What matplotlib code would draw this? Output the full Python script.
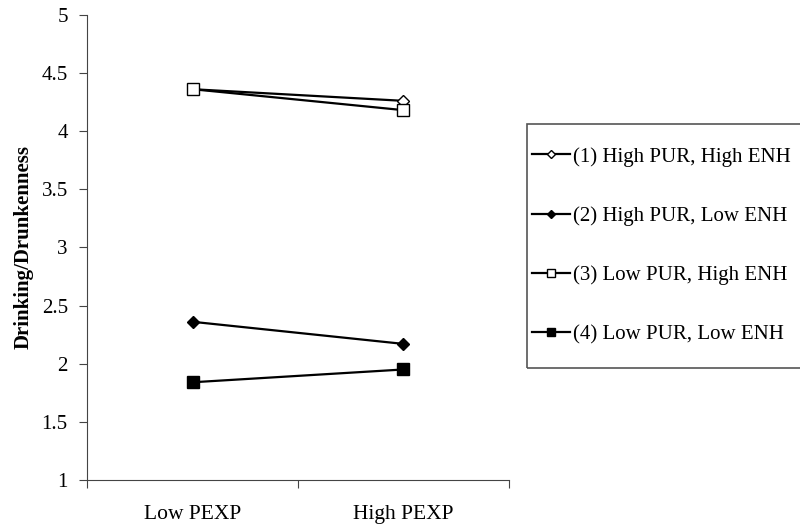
import matplotlib.pyplot as plt
from matplotlib.patches import Rectangle

plt.rcParams['font.family'] = ['Liberation Serif', 'DejaVu Serif']

categories = ["Low PEXP", "High PEXP"]
series_names = ["(1) High PUR, High ENH", "(2) High PUR, Low ENH",
                "(3) Low PUR, High ENH", "(4) Low PUR, Low ENH"]
s1 = [4.36, 4.26]
s2 = [2.36, 2.17]
s3 = [4.36, 4.18]
s4 = [1.84, 1.95]

fig = plt.figure(figsize=(8, 5.28), dpi=100)
ax = fig.add_axes([0.109, 0.091, 0.527, 0.881])

xs = [0.5, 1.5]
ax.plot(xs, s1, color='black', lw=1.6, marker='D', ms=6, mfc='white', mec='black', mew=1, label=series_names[0])
ax.plot(xs, s2, color='black', lw=1.6, marker='D', ms=6, mfc='black', mec='black', label=series_names[1])
ax.plot(xs, s3, color='black', lw=1.6, marker='s', ms=8, mfc='white', mec='black', mew=1, label=series_names[2])
ax.plot(xs, s4, color='black', lw=1.6, marker='s', ms=8, mfc='black', mec='black', label=series_names[3])

ax.set_xlim(0, 2)
ax.set_ylim(1, 5)
ax.set_yticks([1, 1.5, 2, 2.5, 3, 3.5, 4, 4.5, 5])
ax.set_yticklabels(['1', '1.5', '2', '2.5', '3', '3.5', '4', '4.5', '5'], fontsize=15)
ax.set_xticks([0, 1, 2])
ax.set_xticklabels([])
ax.set_xticks(xs, minor=True)
ax.set_xticklabels(categories, minor=True, fontsize=15.5)
ax.tick_params(axis='x', which='minor', length=0, pad=18)
ax.tick_params(axis='x', which='major', direction='out', length=6, color='#444444')
ax.tick_params(axis='y', direction='out', length=6, color='#444444', pad=8)
ax.spines['top'].set_visible(False)
ax.spines['right'].set_visible(False)
ax.spines['left'].set_color('#444444')
ax.spines['bottom'].set_color('#444444')
ax.set_ylabel("Drinking/Drunkenness", fontsize=15, fontweight='bold', labelpad=6)

# legend box drawn separately
fig.patches.append(Rectangle((527 / 800, 1 - 368 / 528), 280 / 800, 244 / 528,
                             transform=fig.transFigure, fill=False,
                             edgecolor='#555555', lw=1.2))
leg = fig.legend(loc='upper left', bbox_to_anchor=(532 / 800, 1 - 147 / 528), fontsize=15,
                 frameon=False, handlelength=1.8, handletextpad=0.15,
                 labelspacing=1.9, borderpad=0, borderaxespad=0, markerscale=0.75)

plt.savefig('out.png', dpi=100)
